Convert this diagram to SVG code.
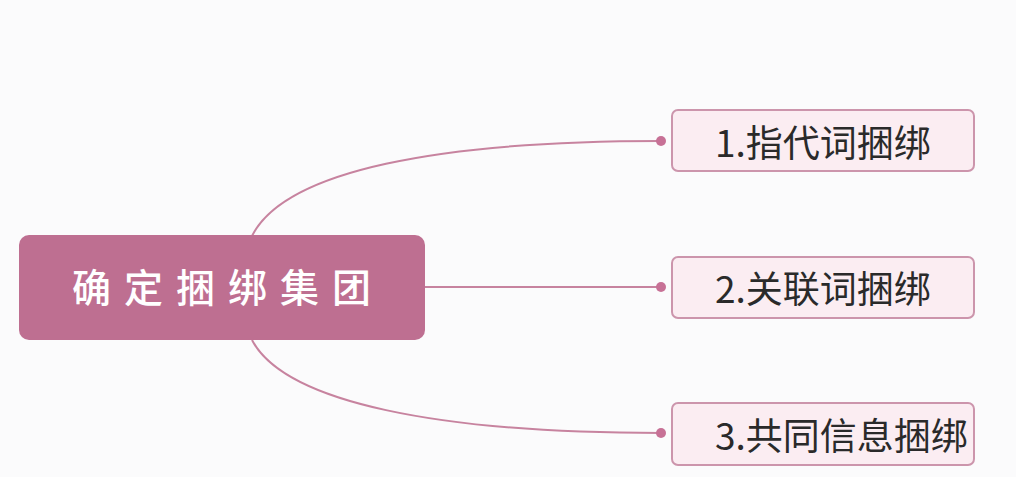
<svg xmlns="http://www.w3.org/2000/svg" width="1016" height="477" viewBox="0 0 1016 477">
<style>
.conn{fill:none;stroke:#C7839F;stroke-width:2}
.dot{fill:#C77196}
.sub rect{fill:#FBEDF2;stroke:#CC95AC;stroke-width:2}
.sub text{font-family:"Noto Sans CJK SC","Noto Sans",sans-serif;font-size:37px;fill:#2a2a2a}
.main rect{fill:#BE6F91}
.main text{font-family:"Noto Sans CJK SC",sans-serif;font-size:39px;fill:#ffffff;letter-spacing:13px;font-weight:500}
</style>
<rect width="1016" height="477" fill="#FBFBFC"/>
<g id="connectors">
<path class="conn" d="M252 236 C285 170 440 141 661 141"/>
<path class="conn" d="M425 287 L661 287"/>
<path class="conn" d="M252 340 C285 403 440 433 661 433"/>
<circle class="dot" cx="661" cy="141" r="5"/>
<circle class="dot" cx="661" cy="287" r="5"/>
<circle class="dot" cx="661" cy="433" r="5"/>
</g>
<g id="main" class="main">
<rect x="19" y="235" width="406" height="105" rx="10"/>
<text x="72" y="302">确定捆绑集团</text>
</g>
<g id="n1" class="sub">
<rect x="672" y="110" width="302" height="61" rx="6"/>
<text x="715" y="157">1.指代词捆绑</text>
</g>
<g id="n2" class="sub">
<rect x="672" y="257" width="302" height="61" rx="6"/>
<text x="715" y="303">2.关联词捆绑</text>
</g>
<g id="n3" class="sub">
<rect x="672" y="403" width="302" height="62" rx="6"/>
<text x="715" y="450">3.共同信息捆绑</text>
</g>
</svg>
